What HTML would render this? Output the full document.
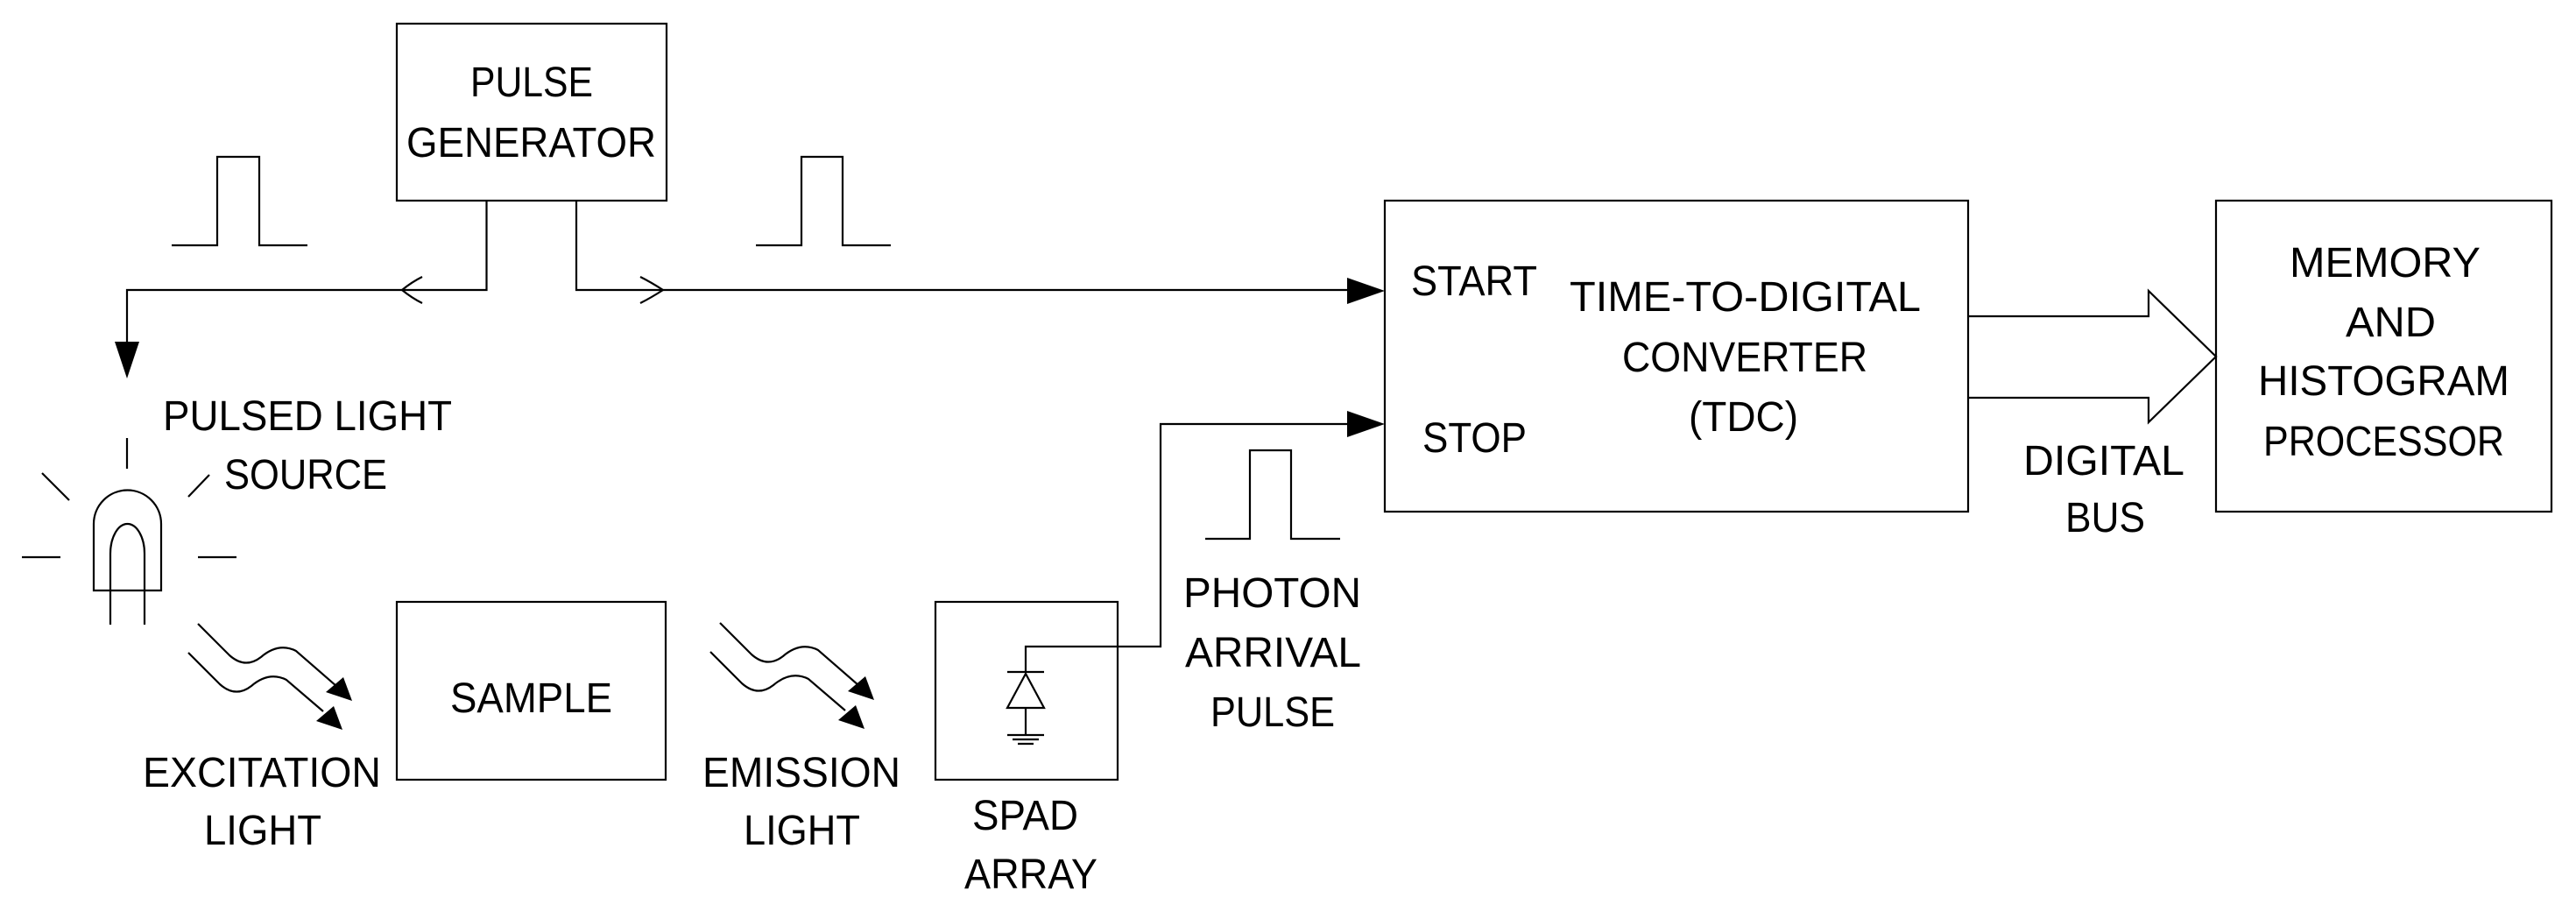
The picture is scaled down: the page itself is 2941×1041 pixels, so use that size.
<!DOCTYPE html>
<html><head><meta charset="utf-8"><style>html,body{margin:0;padding:0;background:#fff;}svg{display:block}</style></head>
<body>
<svg width="2941" height="1041" viewBox="0 0 2941 1041" xmlns="http://www.w3.org/2000/svg">
<g fill="none" stroke="#000" stroke-width="2.2">
<rect x="453" y="27" width="308" height="202"/>
<rect x="453" y="687" width="307" height="203"/>
<rect x="1068" y="687" width="208" height="203"/>
<rect x="1581" y="229" width="666" height="355"/>
<rect x="2530" y="229" width="383" height="355"/>
<!-- pulses -->
<polyline points="196,280 248,280 248,179 296,179 296,280 351,280"/>
<polyline points="863,280 915,280 915,179 962,179 962,280 1017,280"/>
<polyline points="1376,615 1427,615 1427,514 1474,514 1474,615 1530,615"/>
<!-- PG connectors -->
<polyline points="555.5,229 555.5,331 145,331 145,395"/>
<polyline points="658,229 658,331 1545,331"/>
<path d="M482,316 Q470,322 459,331 Q470,340 482,346"/>
<path d="M731,316 Q743,322 757,331 Q743,340 731,346"/>
<!-- stop line -->
<polyline points="1171,766 1171,738 1325,738 1325,484 1545,484"/>
<!-- diode -->
<line x1="1150" y1="767" x2="1192" y2="767"/>
<polygon points="1171,769 1150,808 1192,808"/>
<line x1="1171" y1="808" x2="1171" y2="839"/>
<line x1="1150" y1="839" x2="1192" y2="839"/>
<line x1="1156" y1="844" x2="1186" y2="844"/>
<line x1="1162" y1="849" x2="1180" y2="849"/>
<!-- digital bus -->
<polyline points="2247,361 2453,361 2453,332 2530,407 2453,482 2453,454 2247,454"/>
<!-- LED -->
<line x1="145" y1="500" x2="145" y2="535"/>
<line x1="48" y1="540" x2="79" y2="571"/>
<line x1="239" y1="542" x2="215" y2="567"/>
<line x1="25" y1="636" x2="69" y2="636"/>
<line x1="226" y1="636" x2="270" y2="636"/>
<path d="M107,674 L107,598 A38.5,38.5 0 0 1 184,598 L184,674 Z"/>
<path d="M126,713 L126,632 A19.5,34 0 0 1 165,632 L165,713"/>
<!-- wavy -->
<g id="w1"><path d="M226,712 L262,748 Q280,764 298,750 Q318,733 338,743 L392,790"/></g>
<g transform="translate(-11,33)"><path d="M226,712 L262,748 Q280,764 298,750 Q318,733 338,743 L380,779"/></g>
<g transform="translate(596,-1)"><path d="M226,712 L262,748 Q280,764 298,750 Q318,733 338,743 L392,790"/></g>
<g transform="translate(585,32)"><path d="M226,712 L262,748 Q280,764 298,750 Q318,733 338,743 L380,779"/></g>
</g>
<g fill="#000">
<polygon points="1581,332 1538,317 1538,347"/>
<polygon points="1581,484 1538,469 1538,499"/>
<polygon points="145,432 131,390 159,390"/>
<polygon points="402,800 372,790 392,773"/>
<polygon points="391,833 361,823 381,806"/>
<polygon points="998,799 968,789 988,772"/>
<polygon points="987,832 957,822 977,805"/>
</g>
<g font-family="'Liberation Sans', sans-serif" font-size="48" fill="#000" lengthAdjust="spacingAndGlyphs">
<text x="537" y="110" textLength="140" lengthAdjust="spacingAndGlyphs">PULSE</text>
<text x="464" y="179" textLength="285" lengthAdjust="spacingAndGlyphs">GENERATOR</text>
<text x="186" y="491" textLength="330" lengthAdjust="spacingAndGlyphs">PULSED LIGHT</text>
<text x="256" y="558" textLength="186" lengthAdjust="spacingAndGlyphs">SOURCE</text>
<text x="514" y="813" textLength="185" lengthAdjust="spacingAndGlyphs">SAMPLE</text>
<text x="163" y="898" textLength="272" lengthAdjust="spacingAndGlyphs">EXCITATION</text>
<text x="233" y="964" textLength="134" lengthAdjust="spacingAndGlyphs">LIGHT</text>
<text x="802" y="898" textLength="226" lengthAdjust="spacingAndGlyphs">EMISSION</text>
<text x="849" y="964" textLength="133" lengthAdjust="spacingAndGlyphs">LIGHT</text>
<text x="1110" y="947" textLength="121" lengthAdjust="spacingAndGlyphs">SPAD</text>
<text x="1101" y="1014" textLength="152" lengthAdjust="spacingAndGlyphs">ARRAY</text>
<text x="1351" y="693" textLength="203" lengthAdjust="spacingAndGlyphs">PHOTON</text>
<text x="1353" y="761" textLength="201" lengthAdjust="spacingAndGlyphs">ARRIVAL</text>
<text x="1382" y="829" textLength="142" lengthAdjust="spacingAndGlyphs">PULSE</text>
<text x="1611" y="337" textLength="144" lengthAdjust="spacingAndGlyphs">START</text>
<text x="1624" y="516" textLength="119" lengthAdjust="spacingAndGlyphs">STOP</text>
<text x="1792" y="355" textLength="401" lengthAdjust="spacingAndGlyphs">TIME-TO-DIGITAL</text>
<text x="1852" y="424" textLength="280" lengthAdjust="spacingAndGlyphs">CONVERTER</text>
<text x="1928" y="492" textLength="125" lengthAdjust="spacingAndGlyphs">(TDC)</text>
<text x="2310" y="542" textLength="184" lengthAdjust="spacingAndGlyphs">DIGITAL</text>
<text x="2358" y="607" textLength="91" lengthAdjust="spacingAndGlyphs">BUS</text>
<text x="2614" y="316" textLength="218" lengthAdjust="spacingAndGlyphs">MEMORY</text>
<text x="2678" y="384" textLength="103" lengthAdjust="spacingAndGlyphs">AND</text>
<text x="2578" y="451" textLength="287" lengthAdjust="spacingAndGlyphs">HISTOGRAM</text>
<text x="2584" y="520" textLength="275" lengthAdjust="spacingAndGlyphs">PROCESSOR</text>
</g>
</svg>
</body></html>
